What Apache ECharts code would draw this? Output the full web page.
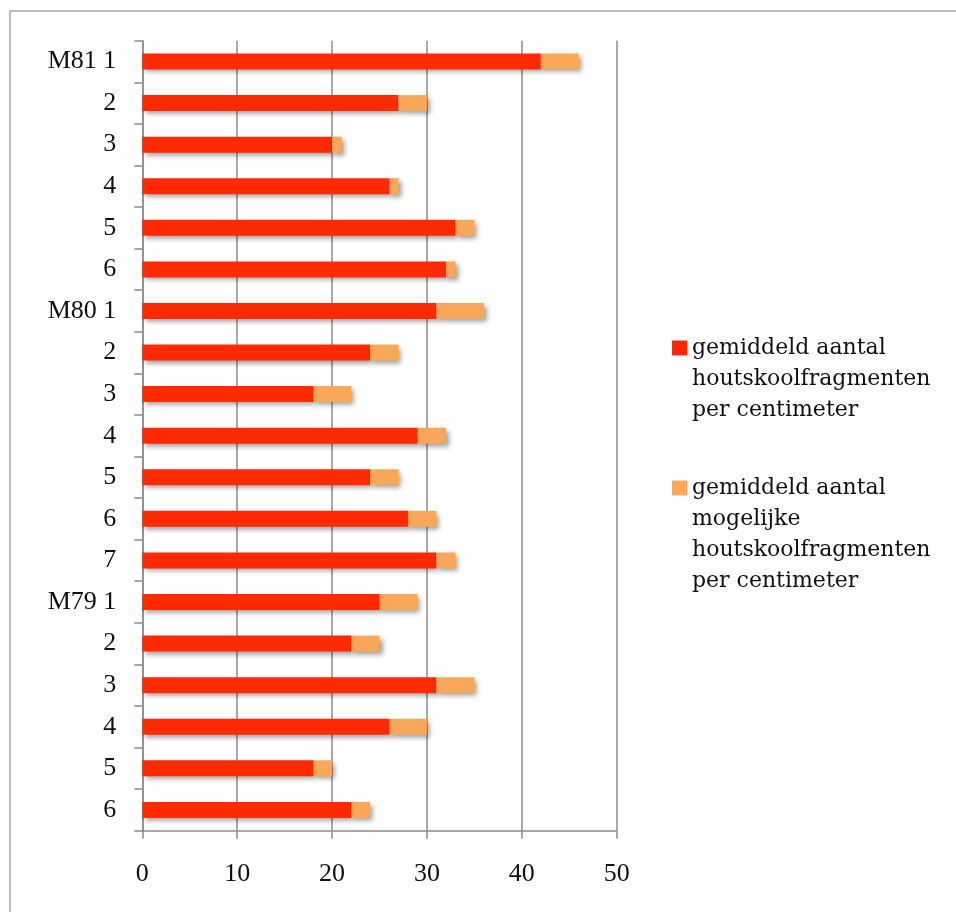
<!DOCTYPE html>
<html>
<head>
<meta charset="utf-8">
<script src="https://cdn.jsdelivr.net/npm/echarts@6/dist/echarts.min.js"></script>
<style>
  html, body { margin: 0; padding: 0; background: #fff; }
  #chart { width: 956px; height: 912px; }
</style>
</head>
<body>
<div id="chart"></div>
<script>
// Core samples per layer (top to bottom)
const categories = ['M81 1', '2', '3', '4', '5', '6', 'M80 1', '2', '3', '4', '5', '6', '7', 'M79 1', '2', '3', '4', '5', '6'];
// Average number of charcoal fragments per centimetre
const certainValues = [42, 27, 20, 26, 33, 32, 31, 24, 18, 29, 24, 28, 31, 25, 22, 31, 26, 18, 22];
// Average number of possible charcoal fragments per centimetre (stacked on top)
const possibleValues = [4, 3, 1, 1, 2, 1, 5, 3, 4, 3, 3, 3, 2, 4, 3, 4, 4, 2, 2];
const xTicks = [0, 10, 20, 30, 40, 50];

const nameCertain = 'gemiddeld aantal\nhoutskoolfragmenten\nper centimeter';
const namePossible = 'gemiddeld aantal\nmogelijke\nhoutskoolfragmenten\nper centimeter';

const AXIS_FONT = 'Liberation Serif';
const LEGEND_FONT = 'DejaVu Serif';
const LINE = 31;

const chart = echarts.init(document.getElementById('chart'), null, { renderer: 'canvas' });

const barShadow = {
  shadowColor: 'rgba(0,0,0,0.38)',
  shadowBlur: 5,
  shadowOffsetX: 3,
  shadowOffsetY: 3
};

// Legend entries: the swatch sits beside the first text line, so the
// multi-line label is padded with leading empty lines to keep it centred.
function legendFor(name, top) {
  const lines = name.split('\n').length;
  const lead = '\n'.repeat(lines - 1);
  return {
    orient: 'vertical',
    left: 672,
    top: top,
    padding: 0,
    itemWidth: 15,
    itemHeight: 15,
    itemGap: 0,
    icon: 'rect',
    selectedMode: false,
    data: [name],
    formatter: function (n) { return lead + n; },
    itemStyle: { shadowBlur: 0, shadowOffsetX: 0, shadowOffsetY: 0, shadowColor: 'transparent' },
    textStyle: { fontFamily: LEGEND_FONT, fontSize: 22, color: '#111', lineHeight: LINE }
  };
}

chart.setOption({
  backgroundColor: '#ffffff',
  animation: false,
  graphic: [{
    type: 'rect',
    shape: { x: 10, y: 11, width: 2000, height: 2000 },
    style: { fill: 'none', stroke: '#a9a9a9', lineWidth: 1.5 },
    silent: true,
    z: -1
  }],
  grid: { left: 142.3, right: 339.3, top: 40.7, bottom: 81.3, containLabel: false },
  legend: [
    legendFor(nameCertain, 270.5),
    legendFor(namePossible, 379.5)
  ],
  xAxis: {
    type: 'value',
    min: xTicks[0],
    max: xTicks[xTicks.length - 1],
    interval: 10,
    axisLine: { show: true, lineStyle: { color: '#8c8c8c', width: 1.5 } },
    axisTick: { show: true, length: 8, lineStyle: { color: '#8c8c8c', width: 1.5 } },
    axisLabel: { fontFamily: AXIS_FONT, fontSize: 26, color: '#111', margin: 30 },
    splitLine: { show: true, lineStyle: { color: '#8c8c8c', width: 1.5 } }
  },
  yAxis: {
    type: 'category',
    inverse: true,
    data: categories,
    axisLine: { show: true, lineStyle: { color: '#8c8c8c', width: 1.5 } },
    axisTick: { show: true, length: 8, lineStyle: { color: '#8c8c8c', width: 1.5 } },
    axisLabel: { fontFamily: AXIS_FONT, fontSize: 26, color: '#111', margin: 26, interval: 0 },
    splitLine: { show: false }
  },
  series: [
    {
      name: nameCertain,
      type: 'bar',
      stack: 'total',
      barWidth: 16,
      data: certainValues,
      itemStyle: Object.assign({ color: '#ff2a00' }, barShadow)
    },
    {
      name: namePossible,
      type: 'bar',
      stack: 'total',
      barWidth: 16,
      data: possibleValues,
      itemStyle: Object.assign({ color: '#f9a85a' }, barShadow)
    }
  ]
});
</script>
</body>
</html>
